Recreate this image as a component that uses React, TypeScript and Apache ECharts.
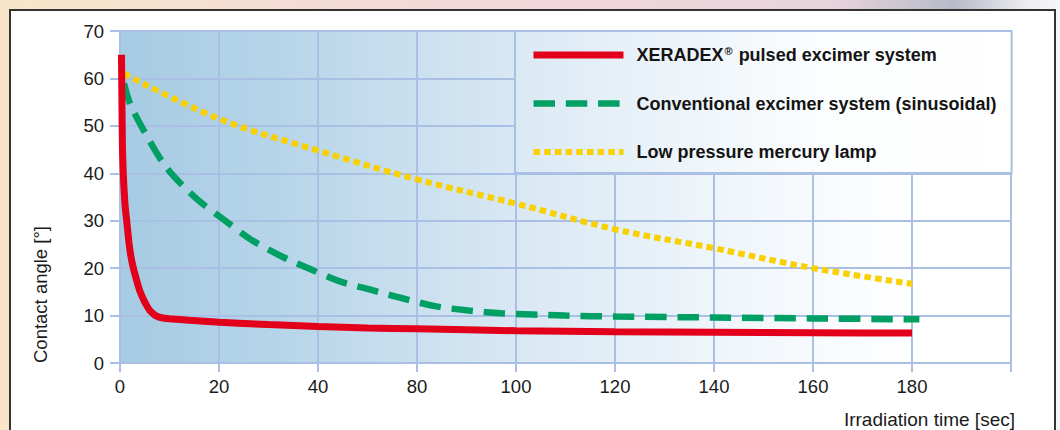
import React, { useEffect, useRef } from "react";
import * as echarts from "echarts";

// x values are in plot units: each vertical grid step = 20 units
const xTickLabels = ["0", "20", "40", "80", "100", "120", "140", "160", "180", ""];

const seriesNames = [
  "XERADEX® pulsed excimer system",
  "Conventional excimer system (sinusoidal)",
  "Low pressure mercury lamp",
];

const xeradex: number[][] = [
  [0.3, 65], [0.4, 54], [0.5, 45], [0.7, 39], [1.0, 33.5], [1.35, 30], [1.8, 25.5], [2.2, 22.5],
  [2.7, 20], [3.4, 17.3], [4.0, 15.2], [4.7, 13.5], [5.4, 12.1], [6.0, 11.1], [6.7, 10.4],
  [7.4, 9.9], [8.4, 9.55], [10, 9.35], [14, 9.0], [20, 8.6], [30, 8.1], [40, 7.7], [50, 7.4],
  [60, 7.2], [80, 6.8], [100, 6.6], [120, 6.5], [140, 6.4], [160, 6.3],
];

const conventional: number[][] = [
  [0.8, 59], [2, 54.8], [4.7, 49.2], [9.4, 41.2], [15.5, 34.6], [21, 30.2], [26.5, 26],
  [33, 22.3], [38.4, 19.8], [44.4, 17.2], [50.8, 15.4], [57.2, 13.6], [63.6, 12.0],
  [70, 11.1], [77, 10.5], [90, 10.0], [100, 9.8], [120, 9.6], [140, 9.4], [161.5, 9.2],
];

const mercury: number[][] = [
  [0.8, 61], [20, 51.5], [40, 44.8], [60, 38.7], [80, 33.6], [100, 28.2], [120, 24.2],
  [140, 20.0], [160, 16.7],
];

const FONT = "'Liberation Sans', Arial, Helvetica, sans-serif";
const GRID_COLOR = "#a9bfe3";
const RED = "#e2001a";
const GREEN = "#00a064";
const YELLOW = "#f9d000";

export default function App() {
  const ref = useRef<HTMLDivElement>(null);

  useEffect(() => {
    if (!ref.current) return;
    const chart = echarts.init(ref.current, null, { renderer: "svg" });
    const gridLine = { color: GRID_COLOR, width: 2 };
    const redLine = { color: RED, width: 7, type: "solid" as const };
    const greenLine = { color: GREEN, width: 6.5, type: [21.5, 10.8] };
    const yellowLine = { color: YELLOW, width: 6, type: [6.5, 4.2] };
    chart.setOption({
      animation: false,
      backgroundColor: "transparent",
      grid: {
        left: 120,
        right: 49,
        top: 31,
        bottom: 67,
        show: true,
        borderWidth: 0,
        backgroundColor: new echarts.graphic.LinearGradient(0, 0, 1, 0, [
          { offset: 0, color: "#a6cbe3" },
          { offset: 0.2, color: "#b9d6ea" },
          { offset: 0.43, color: "#d7e7f3" },
          { offset: 0.65, color: "#edf4fa" },
          { offset: 0.82, color: "#fafcfe" },
          { offset: 0.9, color: "#ffffff" },
          { offset: 1, color: "#ffffff" },
        ]),
      },
      xAxis: {
        type: "value",
        min: 0,
        max: 180,
        interval: 20,
        axisLine: { show: true, lineStyle: gridLine },
        axisTick: { show: true, length: 9, lineStyle: gridLine },
        splitLine: { show: true, lineStyle: gridLine },
        axisLabel: {
          formatter: (v: number) => xTickLabels[Math.round(v / 20)] ?? "",
          fontFamily: FONT,
          fontSize: 18.5,
          color: "#1a1a1a",
          margin: 14,
        },
      },
      yAxis: {
        type: "value",
        min: 0,
        max: 70,
        interval: 10,
        axisLine: { show: true, lineStyle: gridLine },
        axisTick: { show: true, length: 10, lineStyle: gridLine },
        splitLine: { show: true, lineStyle: gridLine },
        axisLabel: {
          fontFamily: FONT,
          fontSize: 18.5,
          color: "#1a1a1a",
          margin: 16,
          padding: [4, 0, 0, 0],
        },
      },
      legend: {
        left: 515,
        top: 31,
        orient: "vertical",
        itemWidth: 90,
        itemHeight: 20,
        itemGap: 30.5,
        padding: [14, 15, 12, 15],
        selectedMode: false,
        borderColor: GRID_COLOR,
        borderWidth: 2,
        itemStyle: { opacity: 0 },
        backgroundColor: new echarts.graphic.LinearGradient(0, 0, 1, 0, [
          { offset: 0, color: "#dbe9f4" },
          { offset: 0.6, color: "#fbfdfe" },
          { offset: 1, color: "#ffffff" },
        ]),
        data: [
          { name: seriesNames[0], lineStyle: redLine, itemStyle: { opacity: 0 } },
          { name: seriesNames[1], lineStyle: greenLine, itemStyle: { opacity: 0 } },
          { name: seriesNames[2], lineStyle: yellowLine, itemStyle: { opacity: 0 } },
        ],
        formatter: (name: string) =>
          name === seriesNames[0]
            ? "{g| }{b|XERADEX}{s|®}{b| pulsed excimer system}"
            : "{g| }{b|" + name + "}",
        textStyle: {
          fontFamily: FONT,
          fontWeight: "bold",
          fontSize: 18,
          color: "#141414",
          rich: {
            g: { width: 8, fontSize: 18 },
            b: { fontFamily: FONT, fontWeight: "bold", fontSize: 18, color: "#141414", lineHeight: 20 },
            s: { fontFamily: FONT, fontWeight: "bold", fontSize: 11, color: "#141414", lineHeight: 12, verticalAlign: "top", padding: [0, 1, 0, 1] },
          },
        },
      },
      graphic: [
        {
          type: "text",
          x: 40,
          y: 363,
          rotation: Math.PI / 2,
          style: {
            text: "Contact angle [°]",
            font: "18.5px " + FONT,
            fill: "#1a1a1a",
            textAlign: "left",
            textVerticalAlign: "middle",
          },
        },
        {
          type: "text",
          x: 1015,
          y: 429,
          style: {
            text: "Irradiation time [sec]",
            font: "19px " + FONT,
            fill: "#1a1a1a",
            textAlign: "right",
            textVerticalAlign: "bottom",
          },
        },
      ],
      series: [
        {
          name: seriesNames[0],
          type: "line",
          data: xeradex,
          symbol: "none",
          showSymbol: false,
          smooth: 0.15,
          z: 4,
          lineStyle: redLine,
          itemStyle: { color: RED },
        },
        {
          name: seriesNames[1],
          type: "line",
          data: conventional,
          symbol: "none",
          showSymbol: false,
          smooth: 0.3,
          z: 3,
          lineStyle: greenLine,
          itemStyle: { color: GREEN },
        },
        {
          name: seriesNames[2],
          type: "line",
          data: mercury,
          symbol: "none",
          showSymbol: false,
          smooth: 0.4,
          z: 2,
          lineStyle: yellowLine,
          itemStyle: { color: YELLOW },
        },
      ],
    });
    return () => chart.dispose();
  }, []);

  return (
    <div
      style={{
        position: "fixed",
        left: 0,
        top: 0,
        width: 1060,
        height: 430,
        overflow: "hidden",
        background:
          "linear-gradient(90deg, #f9e6c9 0%, #f4dcd6 30%, #f1d6dc 55%, #e9d4dc 78%, #b8bcc8 90%, #eeeef2 97%, #f6f6f8 100%)",
      }}
    >
      <div
        style={{
          position: "absolute",
          left: 9,
          top: 9,
          width: 1047,
          height: 440,
          boxSizing: "border-box",
          border: "2px solid #333",
          background: "#ffffff",
        }}
      />
      <div ref={ref} style={{ position: "absolute", left: 0, top: 0, width: 1060, height: 430 }} />
    </div>
  );
}
